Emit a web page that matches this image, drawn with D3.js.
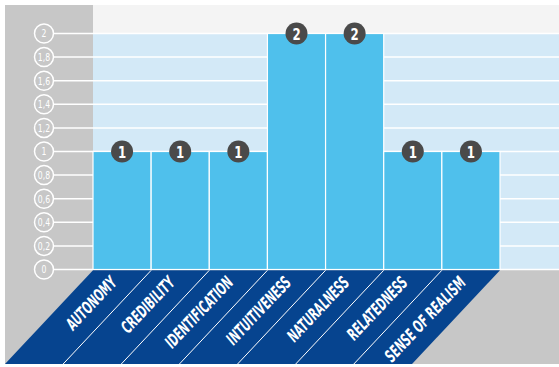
<!DOCTYPE html>
<html>
<head>
<meta charset="utf-8">
<script src="https://cdn.jsdelivr.net/npm/d3@7/dist/d3.min.js"></script>
<style>
  html, body { margin: 0; padding: 0; background: #ffffff; }
  svg { display: block; }
  text { font-family: "DejaVu Sans Condensed", "DejaVu Sans", sans-serif; font-stretch: condensed; }
</style>
</head>
<body>
<script>
// Chart data
const categories = ["AUTONOMY", "CREDIBILITY", "IDENTIFICATION", "INTUITIVENESS", "NATURALNESS", "RELATEDNESS", "SENSE OF REALISM"];
const values = [1, 1, 1, 2, 2, 1, 1];
const tickValues = [0, 0.2, 0.4, 0.6, 0.8, 1, 1.2, 1.4, 1.6, 1.8, 2];
const tickLabels = ["0", "0,2", "0,4", "0,6", "0,8", "1", "1,2", "1,4", "1,6", "1,8", "2"];

const W = 559, H = 367;
const frameLeft = 5, frameTop = 5, floorBottom = 364;
const plotLeft = 93, barsRight = 500;
const baseY = 269.5, maxY = 33.5;
const slantDx = 88; // horizontal run of the slanted base over its height

const svg = d3.select("body").append("svg").attr("width", W).attr("height", H);

const x = d3.scaleBand().domain(categories).range([plotLeft, barsRight]).paddingInner(0).paddingOuter(0);
const y = d3.scaleLinear().domain([0, 2]).range([baseY, maxY]);

// Gray frame: left column and floor
svg.append("rect").attr("x", frameLeft).attr("y", frameTop).attr("width", plotLeft - frameLeft).attr("height", floorBottom - frameTop).attr("fill", "#c7c7c7");
svg.append("rect").attr("x", frameLeft).attr("y", baseY).attr("width", W - frameLeft).attr("height", floorBottom - baseY).attr("fill", "#c7c7c7");

// Top light strip and plot background
svg.append("rect").attr("x", plotLeft).attr("y", frameTop).attr("width", W - plotLeft).attr("height", maxY - frameTop).attr("fill", "#f4f4f4");
svg.append("rect").attr("x", plotLeft).attr("y", maxY).attr("width", W - plotLeft).attr("height", baseY - maxY).attr("fill", "#d3e9f7");

// Y ticks: circled labels with white gridlines
const tickX = 44, tickR = 9.5;
const ticks = svg.append("g");
ticks.selectAll("line").data(tickValues).join("line")
  .attr("x1", tickX + tickR).attr("x2", W)
  .attr("y1", d => y(d)).attr("y2", d => y(d))
  .attr("stroke", "#ffffff").attr("stroke-width", 1.5);
ticks.selectAll("circle").data(tickValues).join("circle")
  .attr("cx", tickX).attr("cy", d => y(d)).attr("r", tickR)
  .attr("fill", "none").attr("stroke", "#ffffff").attr("stroke-width", 1.5);
ticks.selectAll("text").data(tickValues).join("text")
  .attr("transform", d => `translate(${tickX},${y(d)}) scale(0.78,1)`)
  .attr("text-anchor", "middle").attr("dominant-baseline", "central")
  .attr("fill", "#ffffff").attr("font-size", 11)
  .text((d, i) => tickLabels[i]);

// Bars
svg.append("g").selectAll("rect").data(categories).join("rect")
  .attr("x", d => x(d)).attr("width", x.bandwidth())
  .attr("y", (d, i) => y(values[i])).attr("height", (d, i) => y(0) - y(values[i]))
  .attr("fill", "#4fc0ec").attr("stroke", "#ffffff").attr("stroke-width", 1.2);

// Slanted base with category strips
const baseTop = baseY + 0.8, baseH = floorBottom - baseTop;
svg.append("path")
  .attr("d", `M${plotLeft},${baseTop}L${barsRight},${baseTop}L${barsRight - slantDx},${floorBottom}L${plotLeft - slantDx},${floorBottom}Z`)
  .attr("fill", "#06448f");
const bounds = categories.slice(1).map(c => x(c));
svg.append("g").selectAll("line").data(bounds).join("line")
  .attr("x1", d => d).attr("y1", baseTop)
  .attr("x2", d => d - slantDx).attr("y2", floorBottom)
  .attr("stroke", "#ffffff").attr("stroke-width", 1);

const angle = Math.atan2(baseH, slantDx) * 180 / Math.PI;
const depth = 9;
svg.append("g").selectAll("text").data(categories).join("text")
  .attr("transform", d => {
    const cx = x(d) + x.bandwidth() / 2 - depth * slantDx / baseH;
    const cy = baseTop + depth;
    return `translate(${cx},${cy}) rotate(${-angle}) scale(0.66,1)`;
  })
  .attr("text-anchor", "end").attr("dominant-baseline", "central")
  .attr("fill", "#ffffff").attr("font-size", 17).attr("font-weight", "bold").attr("font-style", "italic")
  .text(d => d);

// Value markers
const marks = svg.append("g").selectAll("g").data(categories).join("g")
  .attr("transform", (d, i) => `translate(${x(d) + x.bandwidth() / 2},${y(values[i])})`);
marks.append("circle").attr("r", 11).attr("fill", "#4a4a4a");
marks.append("text")
  .attr("text-anchor", "middle").attr("dominant-baseline", "central").attr("dy", 0.5)
  .attr("transform", "scale(0.82,1)")
  .attr("fill", "#ffffff").attr("font-size", 16).attr("font-weight", "bold")
  .text((d, i) => values[i]);
</script>
</body>
</html>
